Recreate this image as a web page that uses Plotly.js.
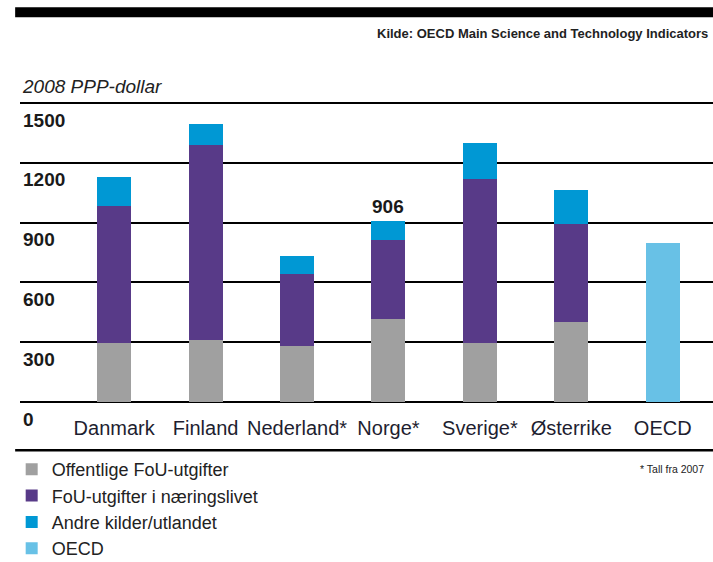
<!DOCTYPE html>
<html>
<head>
<meta charset="utf-8">
<script src="https://cdn.plot.ly/plotly-3.0.1.min.js"></script>
<style>html,body{margin:0;padding:0;background:#fff;}#chart{width:713px;height:562px;}</style>
</head>
<body>
<div id="chart"></div>
<script>
const categories = ["Danmark", "Finland", "Nederland*", "Norge*", "Sverige*", "Østerrike", "OECD"];
const offentlige = [294, 310, 281, 415, 296, 401, null];
const naeringsliv = [688, 981, 360, 400, 821, 494, null];
const andre = [147, 106, 93, 91, 184, 167, null];
const oecd = [null, null, null, null, null, null, 798];
const seriesNames = ["Offentlige FoU-utgifter", "FoU-utgifter i næringslivet", "Andre kilder/utlandet", "OECD"];
const yTicks = [0, 300, 600, 900, 1200, 1500];
const norgeLabel = "906";

const FONT = "Liberation Sans, Arial, sans-serif";
const colors = ["#a0a0a0", "#583a88", "#0098d4", "#68c1e6"];

const traces = [offentlige, naeringsliv, andre, oecd].map((vals, i) => ({
  type: "bar",
  x: categories,
  y: vals,
  name: seriesNames[i],
  marker: {color: colors[i], line: {width: 0}},
  hoverinfo: "y+name"
}));

const layout = {
  width: 713, height: 562,
  margin: {l: 20, r: 0, t: 101, b: 158, autoexpand: false},
  paper_bgcolor: "#fff", plot_bgcolor: "#fff",
  barmode: "stack",
  bargap: 0.628,
  font: {family: FONT, color: "#222"},
  xaxis: {
    type: "category",
    range: [-1.03, 6.55],
    showgrid: false, zeroline: false, showline: false,
    ticks: "",
    tickfont: {family: FONT, size: 20, color: "#1e1e30"},
    ticklabelstandoff: 10
  },
  yaxis: {
    range: [-10, 1510],
    tickvals: yTicks,
    ticktext: yTicks.map(String),
    showgrid: true, gridcolor: "#000", gridwidth: 2,
    zeroline: false, showline: false,
    ticks: "",
    ticklabelposition: "inside",
    ticklabeloverflow: "allow",
    ticklabelshift: 17,
    tickfont: {family: FONT, size: 19, color: "#1a1a1a", weight: "bold"}
  },
  showlegend: true,
  legend: {
    x: -0.012, y: -0.155, xanchor: "left", yanchor: "top",
    traceorder: "normal",
    font: {family: FONT, size: 18, color: "#222"},
    bgcolor: "rgba(0,0,0,0)",
    tracegroupgap: 0
  },
  shapes: [
    {type: "rect", xref: "paper", yref: "paper", x0: -0.007, x1: 1.0, y0: 1.276, y1: 1.309,
     fillcolor: "#000", line: {width: 0}},
    {type: "line", xref: "paper", yref: "paper", x0: -0.007, x1: 1.0, y0: -0.153, y1: -0.153,
     line: {color: "#000", width: 2.5}}
  ],
  annotations: [
    {text: "<b>Kilde: OECD Main Science and Technology Indicators</b>", xref: "paper", yref: "paper",
     x: 0.996, y: 1.223, xanchor: "right", yanchor: "middle", showarrow: false,
     font: {family: FONT, size: 13, color: "#222"}},
    {text: "<i>2008 PPP-dollar</i>", xref: "paper", yref: "paper",
     x: 0.0, y: 1.0485, xanchor: "left", yanchor: "middle", showarrow: false,
     font: {family: FONT, size: 19, color: "#222"}},
    {text: "<b>" + norgeLabel + "</b>", xref: "x", yref: "y",
     x: categories[3], y: offentlige[3] + naeringsliv[3] + andre[3], yanchor: "bottom", showarrow: false,
     yshift: 2, font: {family: FONT, size: 19, color: "#1a1a1a"}},
    {text: "* Tall fra 2007", xref: "paper", yref: "paper",
     x: 0.99, y: -0.215, xanchor: "right", yanchor: "middle", showarrow: false,
     font: {family: FONT, size: 10.5, color: "#222"}}
  ]
};

Plotly.newPlot("chart", traces, layout, {displayModeBar: false, staticPlot: true});
</script>
</body>
</html>
